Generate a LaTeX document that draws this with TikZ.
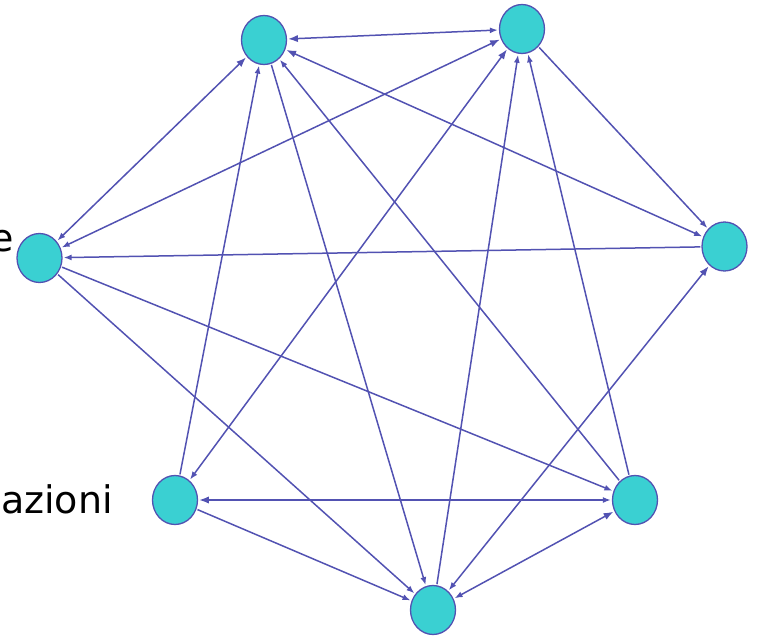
\documentclass[tikz,border=0pt]{standalone}
\usepackage{fontspec}
\setmainfont{DejaVu Sans}
\usetikzlibrary{arrows.meta,shapes.geometric}
\definecolor{vertexfill}{RGB}{58,208,210}
\definecolor{edgeblue}{RGB}{82,82,178}
\tikzset{every node/.style={font=\fontsize{38}{40}\selectfont},line cap=round,line join=round}
\tikzset{
  vertex/.style={ellipse,draw=edgeblue,line width=1.3pt,fill=vertexfill,minimum width=45pt,minimum height=49pt,inner sep=0pt},
  link/.style={draw=edgeblue,line width=1.5pt,shorten <=1pt,shorten >=1pt},
  tip/.style={arrows={#1[length=8pt,width=6pt]}}
}

\begin{document}
\begin{tikzpicture}[x=1pt,y=1pt]
  \path[use as bounding box] (0,0) rectangle (757,638);
  % seven vertices on a ring, with their cut-off labels on the left
  \node[vertex] (a) at (264,598) {};
  \node[vertex] (b) at (522,609) {};
  \node[vertex] (c) at (39.5,380) {};
  \node[vertex] (d) at (724.5,391.5) {};
  \node[vertex] (e) at (175,138) {};
  \node[vertex] (f) at (635,138) {};
  \node[vertex] (g) at (433,28) {};
  \node[anchor=base east,inner sep=0pt] (lblc) at (14,386) {e};
  \node[anchor=base east,inner sep=0pt] (lble) at (113,125) {azioni};

  % two-way links
  \draw[link,tip={Latex-Latex}] (a) -- (b);
  \draw[link,tip={Latex-Latex}] (a) -- (c);
  \draw[link,tip={Latex-Latex}] (a) -- (d);
  \draw[link,tip={Latex-Latex}] (b) -- (c);
  \draw[link,tip={Latex-Latex}] (b) -- (e);
  \draw[link,tip={Latex-Latex}] (d) -- (g);
  \draw[link,tip={Latex-Latex}] (e) -- (f);
  \draw[link,tip={Latex-Latex}] (f) -- (g);
  % one-way links
  \draw[link,tip={-Latex}] (e) -- (a);
  \draw[link,tip={-Latex}] (f) -- (a);
  \draw[link,tip={-Latex}] (a) -- (g);
  \draw[link,tip={-Latex}] (b) -- (d);
  \draw[link,tip={-Latex}] (f) -- (b);
  \draw[link,tip={-Latex}] (g) -- (b);
  \draw[link,tip={-Latex}] (d) -- (c);
  \draw[link,tip={-Latex}] (c) -- (f);
  \draw[link,tip={-Latex}] (c) -- (g);
  \draw[link,tip={-Latex}] (e) -- (g);
\end{tikzpicture}
\end{document}
